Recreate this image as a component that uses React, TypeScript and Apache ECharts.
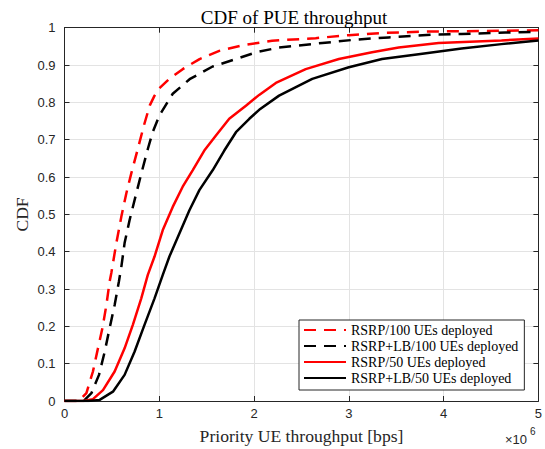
import React, { useEffect, useRef } from "react";
import * as echarts from "echarts";

// Throughput in units of 10^6 bps
const rsrp100X = [0, 0.15, 0.231, 0.3, 0.353, 0.4, 0.442, 0.476, 0.494, 0.547, 0.6, 0.652, 0.704, 0.774, 0.84, 0.9, 0.95, 1.002, 1.107, 1.247, 1.425, 1.633, 1.878, 2.19, 2.65, 3.0, 3.35, 3.876, 4.4, 5.0];
const rsrp100Y = [0, 0, 0.021, 0.079, 0.141, 0.195, 0.257, 0.32, 0.343, 0.423, 0.494, 0.556, 0.609, 0.676, 0.74, 0.792, 0.818, 0.838, 0.863, 0.889, 0.916, 0.938, 0.953, 0.965, 0.972, 0.98, 0.986, 0.99, 0.991, 0.993];

const lb100X = [0, 0.2, 0.284, 0.364, 0.424, 0.476, 0.529, 0.574, 0.6, 0.634, 0.687, 0.757, 0.81, 0.879, 0.93, 1.002, 1.142, 1.32, 1.563, 1.809, 2.02, 2.264, 2.72, 3.07, 3.42, 3.876, 4.19, 4.65, 5.0];
const lb100Y = [0, 0, 0.021, 0.07, 0.132, 0.195, 0.257, 0.32, 0.36, 0.423, 0.485, 0.556, 0.609, 0.675, 0.72, 0.765, 0.823, 0.862, 0.896, 0.916, 0.934, 0.947, 0.959, 0.968, 0.974, 0.981, 0.983, 0.987, 0.989];

const rsrp50X = [0, 0.2, 0.3, 0.406, 0.529, 0.634, 0.721, 0.81, 0.879, 0.95, 1.037, 1.142, 1.247, 1.352, 1.475, 1.598, 1.738, 1.914, 2.054, 2.23, 2.545, 2.895, 3.245, 3.526, 3.947, 4.61, 5.0];
const rsrp50Y = [0, 0, 0.005, 0.029, 0.079, 0.141, 0.204, 0.275, 0.338, 0.387, 0.458, 0.52, 0.574, 0.618, 0.671, 0.711, 0.756, 0.791, 0.82, 0.852, 0.889, 0.916, 0.934, 0.947, 0.959, 0.966, 0.971];

const lb50X = [0, 0.25, 0.371, 0.511, 0.634, 0.739, 0.844, 0.95, 1.037, 1.107, 1.212, 1.318, 1.423, 1.563, 1.686, 1.809, 1.95, 2.054, 2.264, 2.614, 3.0, 3.35, 3.736, 4.19, 4.61, 5.0];
const lb50Y = [0, 0, 0.003, 0.025, 0.07, 0.132, 0.204, 0.275, 0.338, 0.387, 0.449, 0.511, 0.565, 0.618, 0.671, 0.72, 0.756, 0.78, 0.818, 0.863, 0.894, 0.916, 0.929, 0.944, 0.956, 0.966];

const seriesNames = [
  "RSRP/100 UEs deployed",
  "RSRP+LB/100 UEs deployed",
  "RSRP/50 UEs deployed",
  "RSRP+LB/50 UEs deployed",
];

const xTicks = [0, 1, 2, 3, 4, 5];
const yTicks = [0, 0.1, 0.2, 0.3, 0.4, 0.5, 0.6, 0.7, 0.8, 0.9, 1];

const SERIF = "'Liberation Serif', 'Times New Roman', serif";
const SANS = "'Liberation Sans', Arial, Helvetica, sans-serif";
const AXIS = "#262626";

function zip(xs: number[], ys: number[]) {
  return xs.map((x, i) => [x, ys[i]]);
}

export default function App() {
  const ref = useRef<HTMLDivElement>(null);

  useEffect(() => {
    if (!ref.current) return;
    const chart = echarts.init(ref.current, undefined, { renderer: "svg" });

    const mk = (name: string, xs: number[], ys: number[], color: string, dashed: boolean) => ({
      name,
      type: "line",
      data: zip(xs, ys),
      showSymbol: false,
      symbol: "none",
      smooth: false,
      xAxisIndex: 0,
      yAxisIndex: 0,
      lineStyle: {
        color,
        width: 2.5,
        type: dashed ? [12, 8] : "solid",
      },
      itemStyle: { color },
      z: 3,
    });

    chart.setOption({
      animation: false,
      backgroundColor: "#ffffff",
      title: {
        text: "CDF of PUE throughput",
        left: 289,
        textAlign: "center",
        top: 3,
        textStyle: { fontFamily: SERIF, fontSize: 19, fontWeight: "normal", color: "#000" },
      },
      grid: { left: 64.5, right: 5.7, top: 27.7, bottom: 48, containLabel: false },
      xAxis: [
        {
          type: "value",
          position: "bottom",
          min: 0,
          max: 5,
          interval: 1,
          axisLine: { show: true, onZero: false, lineStyle: { color: AXIS } },
          axisTick: { show: true, inside: true, length: 5, lineStyle: { color: AXIS } },
          axisLabel: {
            margin: 6,
            fontFamily: SANS,
            fontSize: 13,
            color: AXIS,
            formatter: (v: number) => (xTicks.includes(v) ? String(v) : ""),
          },
          splitLine: { show: true, lineStyle: { color: "#e3e3e3", width: 1 } },
        },
        {
          type: "value",
          position: "top",
          min: 0,
          max: 5,
          interval: 1,
          axisLine: { show: true, onZero: false, lineStyle: { color: AXIS } },
          axisTick: { show: true, inside: true, length: 5, lineStyle: { color: AXIS } },
          axisLabel: { show: false },
          splitLine: { show: false },
        },
      ],
      yAxis: [
        {
          type: "value",
          position: "left",
          min: 0,
          max: 1,
          interval: 0.1,
          axisLine: { show: true, onZero: false, lineStyle: { color: AXIS } },
          axisTick: { show: true, inside: true, length: 5, lineStyle: { color: AXIS } },
          axisLabel: {
            margin: 9,
            fontFamily: SANS,
            fontSize: 13,
            color: AXIS,
            formatter: (v: number) => {
              const r = Math.round(v * 10) / 10;
              const hit = yTicks.find((t) => Math.abs(t - r) < 1e-6);
              if (hit === undefined) return "";
              return r === 0 ? "0" : r === 1 ? "1" : r.toFixed(1);
            },
          },
          splitLine: { show: true, lineStyle: { color: "#e3e3e3", width: 1 } },
        },
        {
          type: "value",
          position: "right",
          min: 0,
          max: 1,
          interval: 0.1,
          axisLine: { show: true, onZero: false, lineStyle: { color: AXIS } },
          axisTick: { show: true, inside: true, length: 5, lineStyle: { color: AXIS } },
          axisLabel: { show: false },
          splitLine: { show: false },
        },
      ],
      legend: {
        orient: "vertical",
        left: 299,
        top: 320,
        data: seriesNames,
        itemWidth: 42,
        itemHeight: 14,
        itemGap: 2,
        padding: [3, 6, 5, 4],
        backgroundColor: "#ffffff",
        borderColor: "#262626",
        borderWidth: 1,
        borderRadius: 0,
        itemStyle: { opacity: 0 },
        textStyle: { fontFamily: SERIF, fontSize: 14, color: "#000" },
        selectedMode: false,
      },
      graphic: [
        {
          type: "text",
          x: 301.5,
          y: 436,
          style: {
            text: "Priority UE throughput [bps]",
            font: `17.6px ${SERIF}`,
            fill: "#262626",
            align: "center",
            verticalAlign: "middle",
          },
        },
        {
          type: "text",
          x: 22,
          y: 214.5,
          rotation: Math.PI / 2,
          style: {
            text: "CDF",
            font: `17.6px ${SERIF}`,
            fill: "#262626",
            align: "center",
            verticalAlign: "middle",
          },
        },
        {
          type: "text",
          x: 505,
          y: 439,
          style: { text: "×10", font: `13px ${SANS}`, fill: AXIS, verticalAlign: "middle" },
        },
        {
          type: "text",
          x: 530,
          y: 431,
          style: { text: "6", font: `10px ${SANS}`, fill: AXIS, verticalAlign: "middle" },
        },
      ],
      series: [
        mk(seriesNames[0], rsrp100X, rsrp100Y, "#ff0000", true),
        mk(seriesNames[1], lb100X, lb100Y, "#000000", true),
        mk(seriesNames[2], rsrp50X, rsrp50Y, "#ff0000", false),
        mk(seriesNames[3], lb50X, lb50Y, "#000000", false),
      ],
    });

    return () => chart.dispose();
  }, []);

  return (
    <div
      ref={ref}
      style={{ position: "fixed", left: 0, top: 0, width: 545, height: 449, background: "#fff" }}
    />
  );
}
